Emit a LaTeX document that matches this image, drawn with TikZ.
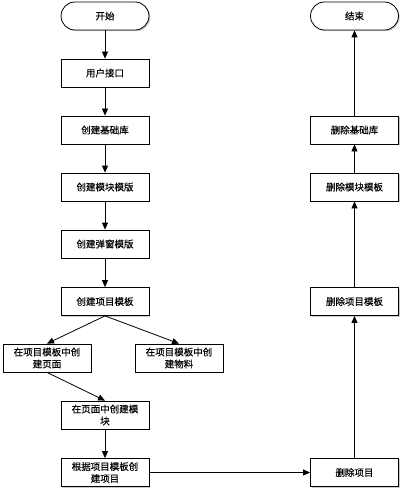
\documentclass[tikz,border=0pt]{standalone}
\usepackage{fontspec}
\setmainfont[FakeBold=0.25]{Noto Sans CJK SC}
\usetikzlibrary{arrows.meta,shadows,positioning}
\begin{document}
\begin{tikzpicture}[x=1pt,y=-1pt,
  base/.style={draw=black,line width=0.8pt,fill=white,minimum width=88pt,minimum height=28pt,inner sep=1pt,align=center,font=\fontsize{9.5}{12}\selectfont,
    drop shadow={shadow xshift=1.2pt,shadow yshift=-1.2pt,fill=black!35,opacity=0.6}},
  proc/.style={base,rectangle},
  term/.style={base,rectangle,rounded corners=14pt},
  arr/.style={-{Triangle[length=7pt,width=6pt]},line width=0.8pt}]
\useasboundingbox (0,0) rectangle (402,492);
\node[term] (start) at (105,16) {开始};
\node[proc] (ui) at (105,73) {用户接口};
\node[proc] (lib) at (105,130) {创建基础库};
\node[proc] (mod) at (105,187) {创建模块模版};
\node[proc] (pop) at (105,244) {创建弹窗模版};
\node[proc] (proj) at (105,301.5) {创建项目模板};
\node[proc] (page) at (47,358) {在项目模板中创\\建页面};
\node[proc] (mat) at (179,358) {在项目模板中创\\建物料};
\node[proc] (pmod) at (105,415) {在页面中创建模\\块};
\node[proc] (mk) at (105,472.5) {根据项目模板创\\建项目};
\node[proc] (dp) at (354.5,472.5) {删除项目};
\node[proc] (dpt) at (354.5,301.5) {删除项目模板};
\node[proc] (dmt) at (354.5,187) {删除模块模板};
\node[proc] (dlib) at (354.5,130) {删除基础库};
\node[term] (end) at (354.5,16) {结束};
\draw[arr] (start) -- (ui);
\draw[arr] (ui) -- (lib);
\draw[arr] (lib) -- (mod);
\draw[arr] (mod) -- (pop);
\draw[arr] (pop) -- (proj);
\draw[arr] (proj.south) -- (page.north);
\draw[arr] (proj.south) -- (mat.north);
\draw[arr] (page.south) -- (pmod.north);
\draw[arr] (pmod) -- (mk);
\draw[arr] (mk) -- (dp);
\draw[arr] (dp) -- (dpt);
\draw[arr] (dpt) -- (dmt);
\draw[arr] (dmt) -- (dlib);
\draw[arr] (dlib) -- (end);
\end{tikzpicture}
\end{document}
